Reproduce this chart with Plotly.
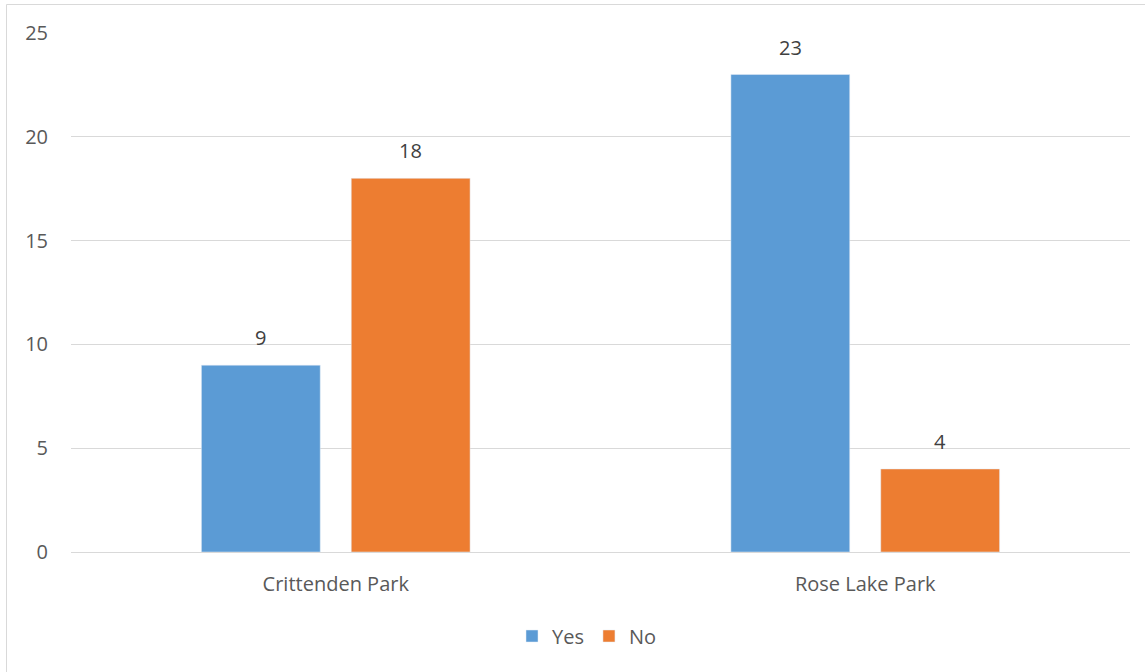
import plotly.graph_objects as go

categories = ["Crittenden Park", "Rose Lake Park"]
yes_values = [9, 23]
no_values = [18, 4]
y_ticks = [0, 5, 10, 15, 20, 25]

W, H = 1145, 672
L, R, T, B = 71, 15, 33, 120
pw, ph = W - L - R, H - T - B

FS = 20
font = dict(family="Open Sans, Liberation Sans, sans-serif", size=FS, color="#595959")

fig = go.Figure()
fig.add_trace(go.Bar(name="Yes", x=categories, y=yes_values, marker_color="#5B9BD5"))
fig.add_trace(go.Bar(name="No", x=categories, y=no_values, marker_color="#ED7D31"))

# value labels above bars
for vals, shift in ((yes_values, -75), (no_values, 75)):
    for c, v in zip(categories, vals):
        fig.add_annotation(x=c, y=v, text=str(v), showarrow=False, xshift=shift,
                           yanchor="bottom", yshift=12,
                           font=dict(size=FS, color="#404040"))

def px(x):
    return (x - L) / pw

def py(y):
    return (H - B - y) / ph

fig.add_shape(type="rect", xref="paper", yref="paper",
              x0=px(6.5), x1=px(1150), y0=py(680), y1=py(4.5),
              line=dict(color="#D9D9D9", width=1), fillcolor="rgba(0,0,0,0)", layer="below")

fig.update_layout(
    width=W, height=H,
    margin=dict(l=L, r=R, t=T, b=B),
    barmode="group", bargap=0.434, bargroupgap=0.207,
    plot_bgcolor="white", paper_bgcolor="white",
    font=font,
    legend=dict(orientation="h", x=px(587), xanchor="center", y=py(636), yanchor="middle",
                font=dict(size=FS, color="#595959"), traceorder="normal"),
    xaxis=dict(showgrid=False, showline=True, linecolor="#D9D9D9", linewidth=1,
               ticks="", tickfont=dict(size=FS, color="#595959"), ticklabelstandoff=14),
    yaxis=dict(range=[0, 25], tickvals=y_ticks, showgrid=True, gridcolor="#D9D9D9",
               gridwidth=1, zeroline=False, showline=False, ticks="",
               tickfont=dict(size=FS, color="#595959"), ticklabelstandoff=22),
)

fig.write_html("out.html", config={"displayModeBar": False},
               post_script="document.body.style.margin='0px';")
